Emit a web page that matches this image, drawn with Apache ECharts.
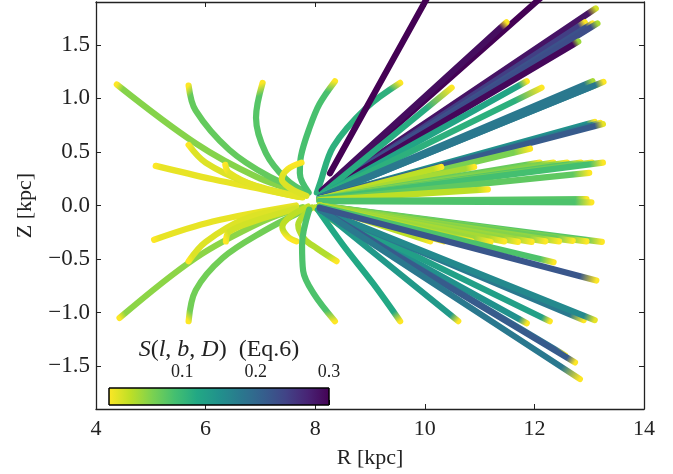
<!DOCTYPE html>
<html><head><meta charset="utf-8">
<script src="https://cdn.jsdelivr.net/npm/echarts@6/dist/echarts.min.js"></script>
<style>html,body{margin:0;padding:0;background:#fff}#c{width:673px;height:474px}</style>
</head><body><div id="c"></div>
<script>
// ---------- tick labels ----------
const xTicks = [4, 6, 8, 10, 12, 14];
const yTicks = [-1.5, -1.0, -0.5, 0, 0.5, 1.0, 1.5];
const cbarTicks = [0.1, 0.2, 0.3];
const sRange = [0, 0.3];

// ---------- sightlines: [R, Z] points (kpc) from near the Sun outward ----------
// S profile per path: [S along the line, S at the far tip, length of the fade (kpc)]
const leftUpperPaths = [
  [[7.80,0.11],[6.92,0.27],[5.82,0.58],[4.38,1.13]],
  [[7.78,0.14],[7.16,0.27],[6.43,0.52],[5.82,0.885],[5.69,1.12]],
  [[7.83,0.12],[7.47,0.245],[7.10,0.49],[6.92,0.82],[7.04,1.145]],
  [[7.88,0.12],[7.72,0.30],[7.74,0.46],[7.90,0.73],[8.08,0.95],[8.36,1.16]],
  [[8.03,0.12],[8.09,0.21],[8.33,0.55],[8.94,0.915],[9.55,1.145]]
];
const leftUpperS = [[0.055,0,0.12],[0.072,0,0.12],[0.08,0,0.12],[0.088,0,0.12],[0.11,0,0.15]];

const yellowUpperPaths = [
  [[7.77,0.075],[7.04,0.15],[6.13,0.245],[5.09,0.37]],
  [[7.65,0.09],[6.74,0.215],[6.0,0.40],[5.69,0.565]],
  [[7.70,0.08],[6.92,0.18],[6.43,0.305],[6.36,0.38]],
  [[7.84,0.09],[7.55,0.16],[7.39,0.245],[7.50,0.34],[7.75,0.40]]
];
const yellowUpperS = [[0.01,0,0.1],[0.015,0,0.1],[0.012,0,0.1],[0.015,0,0.1]];

const leftLowerPaths = [
  [[7.77,-0.015],[7.04,-0.15],[5.82,-0.49],[4.43,-1.05]],
  [[7.77,-0.05],[7.04,-0.245],[6.31,-0.49],[5.82,-0.79],[5.69,-1.08]],
  [[7.65,0.0],[6.13,-0.15],[5.06,-0.32]],
  [[7.65,-0.02],[6.74,-0.12],[6.0,-0.34],[5.69,-0.52]],
  [[7.65,-0.03],[6.92,-0.14],[6.43,-0.245],[6.37,-0.336]],
  [[7.87,-0.01],[7.55,-0.10],[7.40,-0.20],[7.50,-0.29],[7.66,-0.335]]
];
const leftLowerS = [[0.052,0,0.12],[0.065,0,0.12],[0.01,0,0.1],[0.015,0,0.1],[0.02,0,0.1],[0.03,0,0.08]];

const centralLowerPaths = [
  [[7.94,-0.02],[7.69,-0.18],[7.80,-0.31],[8.03,-0.40],[8.39,-0.52]],
  [[8.0,-0.02],[8.45,-0.18],[8.94,-0.336]],
  [[7.89,-0.04],[7.76,-0.37],[7.78,-0.61],[7.97,-0.82],[8.36,-1.08]],
  [[8.05,-0.04],[8.51,-0.37],[9.06,-0.73],[9.55,-1.08]]
];
const centralLowerS = [[0.035,0,0.1],[0.03,0,0.1],[0.085,0,0.12],[0.12,0,0.15]];

const fanDownPaths = [
  [[8.1,-0.04],[10.61,-1.08]],
  [[8.1,-0.04],[11.86,-1.10]],
  [[8.1,-0.04],[12.28,-1.08]],
  [[8.1,-0.04],[12.90,-1.07]],
  [[8.1,-0.04],[13.10,-1.07]],
  [[8.1,-0.04],[12.56,-1.40]],
  [[8.1,-0.04],[12.74,-1.465]],
  [[8.1,-0.04],[12.83,-1.62]]
];
const fanDownS = [[0.14,0,0.15],[0.15,0,0.15],[0.13,0,0.15],[0.18,0,0.25],[0.16,0.01,0.2],[0.19,0,0.2],[0.215,0,0.15],[0.18,0,0.35]];

const fanUpPaths = [
  [[8.27,0.30],[10.11,2.0]],
  [[8.23,0.18],[12.25,2.0]],
  [[8.12,0.14],[11.49,1.71]],
  [[8.15,0.13],[13.12,1.84]],
  [[8.15,0.12],[12.92,1.71]],
  [[8.15,0.12],[13.0,1.66]],
  [[8.15,0.12],[13.06,1.70]],
  [[8.15,0.12],[13.15,1.70]],
  [[8.15,0.12],[12.80,1.53]],
  [[8.10,0.10],[10.49,1.10]],
  [[8.10,0.09],[11.86,1.16]],
  [[8.10,0.09],[12.13,1.10]],
  [[8.10,0.08],[13.06,1.16]],
  [[8.10,0.08],[13.15,1.13]],
  [[8.10,0.08],[13.26,1.154]],
  [[8.08,0.07],[13.1,0.78]],
  [[8.08,0.07],[13.2,0.77]],
  [[8.08,0.07],[13.25,0.76]],
  [[8.08,0.06],[11.92,0.53]]
];
const fanUpS = [[0.30,0.30,0],[0.30,0.30,0],[0.29,0,0.12],[0.285,0.02,0.15],[0.245,0,0.12],[0.21,0.02,0.15],
  [0.225,0,0.12],[0.23,0.04,0.12],[0.295,0.045,0.1],[0.115,0,0.5],[0.125,0,0.15],[0.11,0,0.5],
  [0.18,0.04,0.15],[0.17,0.01,0.15],[0.18,0,0.15],[0.15,0,0.15],[0.17,0,0.15],[0.215,0.01,0.15],[0.06,0,0.3]];

const fanMidPaths = [
  [[8.08,0.06],[10.30,0.36]],
  [[8.08,0.06],[10.90,0.36]],
  [[8.08,0.06],[12.10,0.40]],
  [[8.08,0.06],[12.35,0.40]],
  [[8.08,0.06],[12.60,0.40]],
  [[8.08,0.06],[12.85,0.40]],
  [[8.08,0.06],[13.05,0.40]],
  [[8.08,0.06],[13.25,0.40]],
  [[8.08,0.05],[13.0,0.305]],
  [[8.08,0.05],[11.15,0.15]],
  [[8.08,0.04],[12.95,0.06]],
  [[8.08,0.04],[13.04,0.03]],
  [[8.08,0.0],[13.23,-0.34]],
  [[8.08,0.0],[12.95,-0.335]],
  [[8.08,0.0],[12.70,-0.33]],
  [[8.08,0.0],[12.45,-0.335]],
  [[8.08,0.0],[12.20,-0.335]],
  [[8.08,0.0],[11.95,-0.34]],
  [[8.08,0.0],[11.70,-0.34]],
  [[8.08,0.0],[11.45,-0.335]],
  [[8.08,0.0],[11.20,-0.34]],
  [[8.08,0.0],[10.85,-0.335]],
  [[8.08,0.0],[10.60,-0.34]],
  [[8.08,0.0],[10.35,-0.335]],
  [[8.08,0.0],[10.10,-0.335]],
  [[8.08,-0.01],[12.35,-0.53]],
  [[8.08,-0.02],[13.13,-0.70]]
];
const fanMidS = [[0.03,0,0.15],[0.04,0,0.15],[0.07,0,0.25],[0.06,0,0.25],[0.055,0,0.25],[0.08,0,0.25],
  [0.065,0,0.25],[0.09,0,0.25],[0.075,0,0.3],[0.03,0,0.2],[0.08,0,0.2],[0.085,0,0.3],
  [0.08,0,0.3],[0.06,0,0.3],[0.07,0,0.3],[0.05,0,0.3],[0.055,0,0.3],[0.045,0,0.3],[0.05,0,0.3],
  [0.04,0,0.3],[0.045,0,0.3],[0.035,0,0.3],[0.04,0,0.3],[0.03,0,0.3],[0.03,0,0.25],
  [0.085,0,0.25],[0.22,0,0.3]];

// ---------- colormap (viridis, reversed over sRange) ----------
const VIRIDIS = ['#440154','#482475','#414487','#355f8d','#2a788e','#21918c','#22a884','#44bf70','#7ad151','#bddf26','#fde725'];
function hex2rgb(h){return [parseInt(h.slice(1,3),16),parseInt(h.slice(3,5),16),parseInt(h.slice(5,7),16)];}
function viridis(t){
  t = Math.max(0, Math.min(1, t));
  const f = t * (VIRIDIS.length - 1), i = Math.min(VIRIDIS.length - 2, Math.floor(f)), u = f - i;
  const a = hex2rgb(VIRIDIS[i]), b = hex2rgb(VIRIDIS[i+1]);
  return 'rgb(' + a.map((v,k)=>Math.round(v + (b[k]-v)*u)).join(',') + ')';
}
function sColor(s){ return viridis(1 - (s - sRange[0]) / (sRange[1] - sRange[0])); }

const FONT = 'Liberation Serif';
const TXT = '#222';

const groups = [
  [leftUpperPaths, leftUpperS], [yellowUpperPaths, yellowUpperS],
  [leftLowerPaths, leftLowerS], [centralLowerPaths, centralLowerS],
  [fanDownPaths, fanDownS], [fanUpPaths, fanUpS], [fanMidPaths, fanMidS]
];
const allPaths = [], allS = [];
groups.forEach(g => g[0].forEach((p, i) => { allPaths.push(p); allS.push(g[1][i]); }));

const series = allPaths.map((p, k) => ({
  type: 'line', xAxisIndex: 0, yAxisIndex: 0, data: p,
  smooth: p.length > 2 ? 0.35 : false, symbol: 'none', silent: true, animation: false,
  lineStyle: { width: 6.2, cap: 'round', join: 'round', color: sColor(allS[k][0]) }
}));

// colorbar drawn through its own axis
const cbStops = [];
for (let i = 0; i <= 20; i++) cbStops.push({ offset: i / 20, color: viridis(1 - i / 20) });
series.push({
  type: 'custom', xAxisIndex: 2, yAxisIndex: 2, data: [[sRange[0], sRange[1]]], silent: true, animation: false,
  renderItem: function (params, api) {
    const p0 = api.coord([api.value(0), 0]);
    const p1 = api.coord([api.value(1), 1]);
    return { type: 'rect', shape: { x: p0[0], y: p1[1], width: p1[0] - p0[0], height: p0[1] - p1[1] },
      style: { fill: new echarts.graphic.LinearGradient(0, 0, 1, 0, cbStops), stroke: '#000', lineWidth: 1 } };
  }
});

const fmtY = v => (v < 0 ? '\u2212' : '') + Math.abs(v).toFixed(1);
const axLine = { show: true, onZero: false, lineStyle: { color: '#222', width: 1.3 } };
const tickIn = { show: true, inside: true, length: 5, lineStyle: { color: '#222', width: 1 } };

const option = {
  backgroundColor: '#fff',
  animation: false,
  grid: [
    { left: 96, right: 29, top: 2, bottom: 57 },
    { left: 109, top: 388, width: 220, height: 17 }
  ],
  xAxis: [
    { type: 'value', gridIndex: 0, min: 4, max: 14, interval: 2, position: 'bottom',
      axisLine: axLine, axisTick: tickIn, splitLine: { show: false },
      axisLabel: { margin: 9, fontFamily: FONT, fontSize: 22, color: TXT },
      name: 'R [kpc]', nameLocation: 'middle', nameGap: 38,
      nameTextStyle: { fontFamily: FONT, fontSize: 22, color: TXT } },
    { type: 'value', gridIndex: 0, min: 4, max: 14, interval: 2, position: 'top',
      axisLine: axLine, axisTick: tickIn, axisLabel: { show: false }, splitLine: { show: false } },
    { type: 'value', gridIndex: 1, min: sRange[0], max: sRange[1], position: 'top',
      axisLine: { show: false }, splitLine: { show: false },
      axisTick: { show: true, inside: false, length: 5, customValues: cbarTicks, lineStyle: { color: '#000', width: 1 } },
      axisLabel: { show: true, margin: 7, customValues: cbarTicks, formatter: v => v.toFixed(1),
        fontFamily: FONT, fontSize: 18, color: TXT },
      name: '{i|S}{n|(}{i|l}{n|, }{i|b}{n|, }{i|D}{n|)  (Eq.6)}', nameLocation: 'middle', nameGap: 26,
      nameTextStyle: { rich: {
        i: { fontFamily: FONT, fontSize: 24, fontStyle: 'italic', color: TXT },
        n: { fontFamily: FONT, fontSize: 24, color: TXT } } } }
  ],
  yAxis: [
    { type: 'value', gridIndex: 0, min: -1.9, max: 1.9, position: 'left',
      axisLine: axLine, axisTick: Object.assign({ customValues: yTicks }, tickIn), splitLine: { show: false },
      axisLabel: { margin: 6, customValues: yTicks, formatter: fmtY, fontFamily: FONT, fontSize: 23, color: TXT },
      name: 'Z [kpc]', nameLocation: 'middle', nameGap: 60, nameRotate: 90,
      nameTextStyle: { fontFamily: FONT, fontSize: 22, color: TXT } },
    { type: 'value', gridIndex: 0, min: -1.9, max: 1.9, position: 'right',
      axisLine: axLine, axisTick: Object.assign({ customValues: yTicks }, tickIn),
      axisLabel: { show: false }, splitLine: { show: false } },
    { type: 'value', gridIndex: 1, min: 0, max: 1, show: false }
  ],
  series: series
};

const chart = echarts.init(document.getElementById('c'), null, { renderer: 'canvas' });
chart.setOption(option);

// gradient towards the far tip of each sightline (S falls off at the end)
const upd = allPaths.map((p, k) => {
  const a = chart.convertToPixel({ gridIndex: 0 }, p[0]);
  const b = chart.convertToPixel({ gridIndex: 0 }, p[p.length - 1]);
  const s = allS[k];
  const dist = Math.hypot(p[p.length-1][0] - p[0][0], p[p.length-1][1] - p[0][1]);
  const f = Math.min(0.6, s[2] / dist);
  const c0 = sColor(s[0]), c1 = sColor(s[1]);
  return { lineStyle: { color: { type: 'linear', x: a[0], y: a[1], x2: b[0], y2: b[1], global: true,
    colorStops: [{ offset: 0, color: c0 }, { offset: 1 - f, color: c0 }, { offset: 1, color: c1 }] } } };
});
upd.push({});
chart.setOption({ series: upd });
</script></body></html>
